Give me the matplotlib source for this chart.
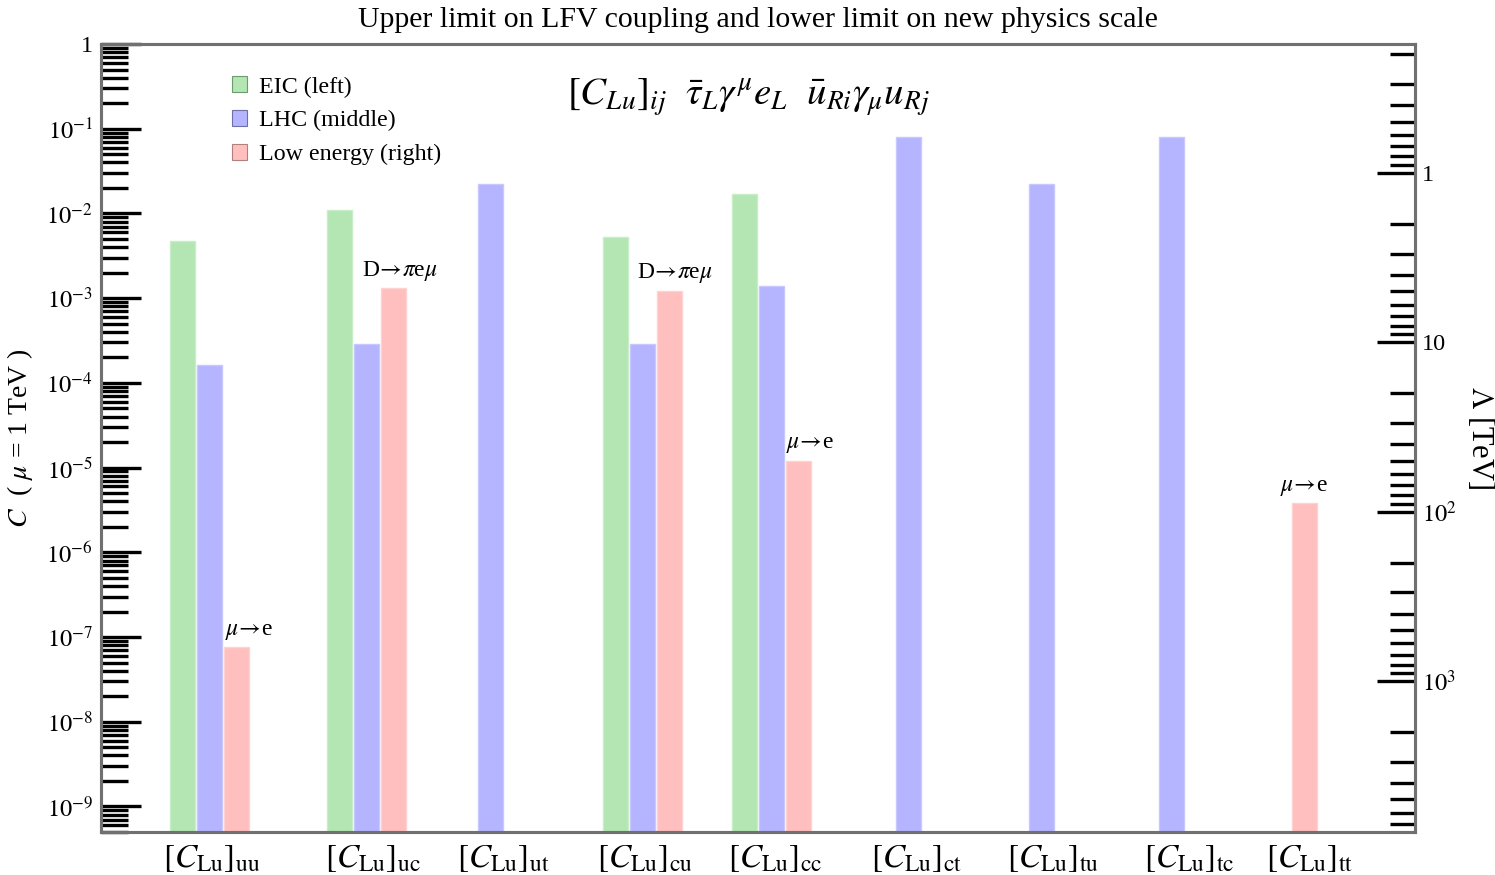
import numpy as np
import matplotlib
matplotlib.use("Agg")
import matplotlib.pyplot as plt
from matplotlib.patches import Patch
from matplotlib.ticker import FixedLocator, NullFormatter, FixedFormatter

plt.rcParams['font.family'] = ['Liberation Serif', 'DejaVu Serif']
plt.rcParams['mathtext.fontset'] = 'stix'

# ---- data: upper limits on the Wilson coefficient C (mu = 1 TeV) ----
categories = ["uu", "uc", "ut", "cu", "cc", "ct", "tu", "tc", "tt"]
eic_limit = [4.73e-3, 1.10e-2, np.nan, 5.3e-3, 1.69e-2, np.nan, np.nan, np.nan, np.nan]
lhc_limit = [1.62e-4, 2.88e-4, 2.22e-2, 2.87e-4, 1.41e-3, 7.98e-2, 2.22e-2, 7.98e-2, np.nan]
low_limit = [7.6e-8, 1.31e-3, np.nan, 1.22e-3, 1.20e-5, np.nan, np.nan, np.nan, 3.81e-6]
mu_e = "$\\mu\\!{\\rightarrow}\\!$e"
d_pi = "D$\\!{\\rightarrow}\\!\\pi$e$\\mu$"
low_process = [mu_e, d_pi, "", d_pi, mu_e, "", "", "", mu_e]

# new-physics scale: C = v^2 / (2 Lambda^2), Lambda in TeV
v_ew = 0.246
lam_major = [1, 10, 100, 1000]
lam_major_labels = ["1", "10", "$10^2$", "$10^3$"]

# ---- layout ----
group_x = [4.02, 9.85, 14.43, 20.06, 24.85, 29.91, 34.83, 39.65, 43.57]
label_x = [4.11, 10.07, 14.89, 20.15, 24.96, 30.22, 35.26, 40.30, 44.78]
note_dx = [9, 4, 0, 4, 8, 0, 0, 0, 0]   # points
bar_w = 0.926
xmax = 48.67
ymin, ymax = 5e-10, 1.0

colors = {"eic": "#b3e6b3", "lhc": "#b4b4ff", "low": "#ffbfbf"}
edges = {"eic": "#c8eec8", "lhc": "#c8c8ff", "low": "#ffd2d2"}
leg_edges = {"eic": "#6f9a6f", "lhc": "#6f6fa8", "low": "#b07f7f"}
spine_col = "#707070"

fig = plt.figure(figsize=(14.95, 8.75), dpi=100)
ax = fig.add_axes([101 / 1495, 1 - 832 / 875, 1314 / 1495, (832 - 44) / 875])

gx = np.array(group_x)
for vals, off, key in [(eic_limit, -1, "eic"), (lhc_limit, 0, "lhc"), (low_limit, 1, "low")]:
    v = np.array(vals, dtype=float)
    ok = ~np.isnan(v)
    ax.bar(gx[ok] + off, v[ok], width=bar_w, bottom=1e-12, color=colors[key],
           edgecolor=edges[key], linewidth=1.0, zorder=2)

# process labels above low-energy bars
for i, txt in enumerate(low_process):
    if txt and not np.isnan(low_limit[i]):
        ax.annotate(txt, (gx[i] + 1, low_limit[i]), xytext=(note_dx[i], 4),
                    textcoords="offset points", ha="center", va="bottom", fontsize=17)

ax.set_yscale("log")
ax.set_ylim(ymin, ymax)
ax.set_xlim(0, xmax)

# left axis ticks
decades = np.arange(-9, 1)
ax.yaxis.set_major_locator(FixedLocator(10.0 ** decades))
ax.yaxis.set_major_formatter(FixedFormatter(["$10^{%d}$" % d if d != 0 else "1" for d in decades]))
minor = [k * 10.0 ** d for d in range(-10, 0) for k in range(2, 10)]
minor = [m for m in minor if ymin <= m <= ymax]
ax.yaxis.set_minor_locator(FixedLocator(minor))
ax.yaxis.set_minor_formatter(NullFormatter())
ax.tick_params(axis="y", which="major", direction="in", length=29, width=2.4,
               color="black", labelsize=17.5, pad=6)
ax.tick_params(axis="y", which="minor", direction="in", length=19.5, width=2.4, color="black")

ax.set_xticks(label_x)
ax.set_xticklabels(["$[C_{\\mathrm{Lu}}]_{\\mathrm{%s}}$" % c for c in categories], fontsize=24)
ax.tick_params(axis="x", length=0, pad=8)

for s in ax.spines.values():
    s.set_color(spine_col)
    s.set_linewidth(2.2)

ax.set_ylabel("$C$  ( $\\mu$ = 1 TeV )", fontsize=20, labelpad=8)

# right axis: Lambda scale
ax2 = ax.twinx()
ax2.set_yscale("log")
ax2.set_ylim(ymin, ymax)
c_of = lambda lam: v_ew ** 2 / (2.0 * np.asarray(lam, dtype=float) ** 2)
ax2.yaxis.set_major_locator(FixedLocator(list(c_of(lam_major))))
ax2.yaxis.set_major_formatter(FixedFormatter(lam_major_labels))
lam_minor = [k * 10.0 ** d for d in range(-1, 4) for k in range(2, 10)]
cmin = [c for c in c_of(lam_minor) if ymin <= c <= ymax]
ax2.yaxis.set_minor_locator(FixedLocator(cmin))
ax2.yaxis.set_minor_formatter(NullFormatter())
ax2.tick_params(axis="y", which="major", direction="in", length=27.5, width=2.4,
                color="black", labelsize=17.5, pad=5)
ax2.tick_params(axis="y", which="minor", direction="in", length=18, width=2.4, color="black")
for s in ax2.spines.values():
    s.set_color(spine_col)
    s.set_linewidth(2.2)
ax2.set_ylabel("$\\Lambda$ [TeV]", fontsize=22, rotation=270, labelpad=28)

ax.set_title("Upper limit on LFV coupling and lower limit on new physics scale",
             fontsize=21.5, pad=12)

ax.text(0.493, 0.933, "$[C_{Lu}]_{ij}\\ \\ \\bar{\\tau}_L\\gamma^{\\mu}e_L\\ \\ \\bar{u}_{Ri}\\gamma_{\\mu}u_{Rj}$",
        transform=ax.transAxes, ha="center", va="center", fontsize=28)

handles = [Patch(facecolor=colors[k], edgecolor=leg_edges[k], linewidth=0.8, label=l)
           for k, l in [("eic", "EIC (left)"), ("lhc", "LHC (middle)"), ("low", "Low energy (right)")]]
ax.legend(handles=handles, loc="upper left", bbox_to_anchor=(0.0925, 0.971), frameon=False,
          fontsize=17.3, handlelength=0.62, handleheight=0.62, handletextpad=0.5,
          labelspacing=0.52, borderaxespad=0)

fig.savefig("out.png", dpi=100)
